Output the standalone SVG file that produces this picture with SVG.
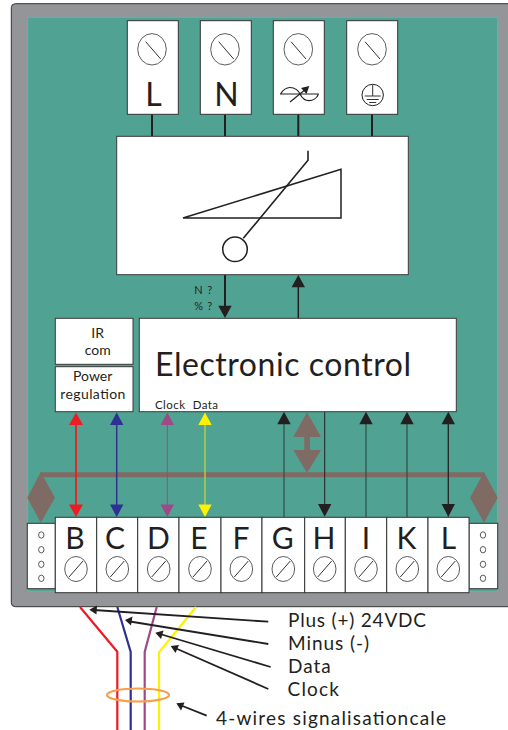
<svg xmlns="http://www.w3.org/2000/svg" width="508" height="730" viewBox="0 0 508 730">
<style>
text{font-family:Lato,"Open Sans","Liberation Sans",sans-serif;fill:#231f20}
.box{fill:#fff;stroke:#3a3a3a;stroke-width:1}
.term{fill:#fff;stroke:#333;stroke-width:1}
.scr{fill:#fff;stroke:#333;stroke-width:.8}
.sl{stroke:#333;stroke-width:1;fill:none}
.top{font-size:32px;text-anchor:middle}
.big{font-size:30px;text-anchor:middle}
.dot{fill:#fff;stroke:#333;stroke-width:.8}
.wire{fill:none;stroke-width:2.2}
.th{stroke:#231f20;stroke-width:1.2;fill:none}
.lead{stroke:#231f20;stroke-width:1.800;fill:none}
.lab{font-size:19px}
</style>
<g id="enclosure">
<rect x="11.300" y="3.700" width="520" height="603" rx="4" fill="#939598" stroke="#333" stroke-width="1"/>
<rect x="27.700" y="17.300" width="470" height="574" fill="#50a392" stroke="#5cb8b0" stroke-width="1"/>
</g>
<g id="connectors">
<path d="M152 114V137M225 114V137M298.300 114V137M372 114V137" stroke="#231f20" stroke-width="2" fill="none"/>
<path d="M225 275V308" stroke="#231f20" stroke-width="2"/>
<path d="M218.300 305.700H231.700L225 318Z" fill="#231f20"/>
<path d="M298.300 318V287" stroke="#231f20" stroke-width="1.500"/>
<path d="M291.600 287.300H305L298.300 275Z" fill="#231f20"/>
<path d="M40.700 474.700H484" stroke="#7f6b63" stroke-width="5" fill="none"/>
<path d="M40.700 472L55 497.700L40.700 522.700L27.300 497.700Z" fill="#7f6b63"/>
<path d="M484 472L497.700 497.700L484 522.700L470 497.700Z" fill="#7f6b63"/>
<path d="M307 412.300L321 437H310V450H321L307 473L293.300 450H304.300V437H293.300Z" fill="#7f6b63"/>
<path d="M76 420V507" stroke="#ed1c24" stroke-width="1.800"/>
<path d="M69 425H83L76 412.500ZM69 504.500H83L76 517Z" fill="#ed1c24"/>
<path d="M116.700 420V507" stroke="#2e3192" stroke-width="1.500"/>
<path d="M110 425H123.400L116.700 412.500ZM110 504.500H123.400L116.700 517Z" fill="#2e3192"/>
<path d="M167.300 420V507" stroke="#8f4f86" stroke-width="1"/>
<path d="M160.500 425H174L167.300 412.500ZM160.500 504.500H174L167.300 517Z" fill="#9e4a86"/>
<path d="M205 420V507" stroke="#c8d83c" stroke-width="1.200"/>
<path d="M198.300 425H211.700L205 412.500ZM198.300 504.500H211.700L205 517Z" fill="#fff200"/>
<path d="M284 422V517M366 422V517M407 422V517M448.300 422V517" stroke="#2f4f4a" stroke-width="1.200"/>
<path d="M324.700 412V507M448.300 422V507" stroke="#231f20" stroke-width="1"/>
<path d="M277.300 424.300H290.700L284 411.700ZM359.300 424.300H372.700L366 411.700ZM400.300 424.300H413.700L407 411.700ZM441.600 424.300H455L448.300 411.700Z" fill="#231f20"/>
<path d="M318 504H331.400L324.700 516.700ZM441.600 504H455L448.300 516.700Z" fill="#231f20"/>
</g>
<g id="terminal-L"><rect class="term" x="127.300" y="20.700" width="51" height="93.600"/><ellipse class="scr" cx="152" cy="49.300" rx="14.300" ry="15.700"/><path class="sl" d="M145.700 41.700L160.700 59"/><text class="top" x="153.500" y="106">L</text></g>
<g id="terminal-N"><rect class="term" x="200.300" y="20.700" width="51" height="93.600"/><ellipse class="scr" cx="225" cy="49.300" rx="14.300" ry="15.700"/><path class="sl" d="M218.700 41.700L233.700 59"/><text class="top" x="226.500" y="106">N</text></g>
<g id="terminal-signal"><rect class="term" x="273.300" y="20.700" width="51" height="93.600"/><ellipse class="scr" cx="298.300" cy="49.300" rx="14.300" ry="15.700"/><path class="sl" d="M291 41.700L306 59"/>
<path class="th" d="M280 94H318.700M280.500 94C283 90 287 87.500 290 87.500C295 87.500 299 91 300 94C302 98 305 100.700 309 100.700C313 100.700 317 98 318.500 94"/>
<path class="th" d="M290 102L306 89"/><path d="M301 88L309.300 86L306.500 94Z" fill="#231f20"/></g>
<g id="terminal-earth"><rect class="term" x="346.700" y="20.700" width="51" height="93.600"/><ellipse class="scr" cx="372" cy="49.300" rx="14.300" ry="15.700"/><path class="sl" d="M365 41.700L380 59"/>
<circle cx="372.700" cy="95" r="10.700" fill="#fff" stroke="#231f20" stroke-width="1"/><path class="sl" d="M372.700 85V96M364.700 96H380.700M366.700 99.500H378.700M369.200 102.500H376.200"/></g>
<g id="relay"><rect class="box" x="116.700" y="136.300" width="291.600" height="138.400"/>
<path d="M183 218L341 169.300V218Z" fill="none" stroke="#231f20" stroke-width="1.500"/>
<path d="M308 150.700V160.300L243.300 238.300" fill="none" stroke="#231f20" stroke-width="1.600"/>
<circle cx="235" cy="249.300" r="12.300" fill="#fff" stroke="#231f20" stroke-width="1.500"/>
</g>
<g id="label-n"><text x="194.300" y="294" font-size="11" textLength="18">N ?</text><text x="194.300" y="310" font-size="11" textLength="18">% ?</text></g>
<g id="ir-com"><rect class="box" x="55.300" y="318.300" width="77.700" height="46"/><text x="97.700" y="338" font-size="14" text-anchor="middle">IR</text><text x="97.700" y="355.300" font-size="14" text-anchor="middle">com</text></g>
<g id="power-regulation"><rect class="box" x="55.300" y="366.700" width="77.700" height="45"/><text x="92.700" y="381.300" font-size="14" text-anchor="middle">Power</text><text x="60.300" y="399" font-size="14" textLength="65">regulation</text></g>
<g id="electronic-control"><rect class="box" x="139.300" y="318.300" width="317" height="93.400"/><text x="155" y="376" font-size="32" textLength="256">Electronic control</text><text x="155" y="408.700" font-size="11.500" textLength="30">Clock</text><text x="192.700" y="408.700" font-size="11.500" textLength="25.300">Data</text></g>
<g id="strip-left"><rect class="term" x="27.300" y="523.300" width="28" height="65.400"/><ellipse class="dot" cx="41.300" cy="535" rx="2.700" ry="3.200"/><ellipse class="dot" cx="41.300" cy="549.700" rx="2.700" ry="3.200"/><ellipse class="dot" cx="41.300" cy="564.300" rx="2.700" ry="3.200"/><ellipse class="dot" cx="41.300" cy="578.300" rx="2.700" ry="3.200"/></g>
<g id="strip-right"><rect class="term" x="469" y="523.300" width="28.700" height="65.400"/><ellipse class="dot" cx="483" cy="535" rx="2.700" ry="3.200"/><ellipse class="dot" cx="483" cy="549.700" rx="2.700" ry="3.200"/><ellipse class="dot" cx="483" cy="564.300" rx="2.700" ry="3.200"/><ellipse class="dot" cx="483" cy="578.300" rx="2.700" ry="3.200"/></g>
<g id="term-B"><rect class="term" x="55.300" y="517.300" width="41.400" height="75.400"/><text class="big" x="75" y="549.300">B</text><ellipse class="scr" cx="76" cy="569" rx="11.300" ry="12.500"/><path class="sl" d="M69 577L83 561"/></g>
<g id="term-C"><rect class="term" x="96.700" y="517.300" width="41" height="75.400"/><text class="big" x="115" y="549.300">C</text><ellipse class="scr" cx="117.300" cy="569" rx="11.300" ry="12.500"/><path class="sl" d="M110.300 577L124.300 561"/></g>
<g id="term-D"><rect class="term" x="137.700" y="517.300" width="41.300" height="75.400"/><text class="big" x="158.300" y="549.300">D</text><ellipse class="scr" cx="158.700" cy="569" rx="11.300" ry="12.500"/><path class="sl" d="M151.700 577L165.700 561"/></g>
<g id="term-E"><rect class="term" x="179" y="517.300" width="42" height="75.400"/><text class="big" x="199" y="549.300">E</text><ellipse class="scr" cx="200" cy="569" rx="11.300" ry="12.500"/><path class="sl" d="M193 577L207 561"/></g>
<g id="term-F"><rect class="term" x="221" y="517.300" width="41" height="75.400"/><text class="big" x="241" y="549.300">F</text><ellipse class="scr" cx="241.300" cy="569" rx="11.300" ry="12.500"/><path class="sl" d="M234.300 577L248.300 561"/></g>
<g id="term-G"><rect class="term" x="262" y="517.300" width="42.700" height="75.400"/><text class="big" x="282.700" y="549.300">G</text><ellipse class="scr" cx="283.300" cy="569" rx="11.300" ry="12.500"/><path class="sl" d="M276.300 577L290.300 561"/></g>
<g id="term-H"><rect class="term" x="304.700" y="517.300" width="40.600" height="75.400"/><text class="big" x="324" y="549.300">H</text><ellipse class="scr" cx="324.700" cy="569" rx="11.300" ry="12.500"/><path class="sl" d="M317.700 577L331.700 561"/></g>
<g id="term-I"><rect class="term" x="345.300" y="517.300" width="41.400" height="75.400"/><text class="big" x="366" y="549.300">I</text><ellipse class="scr" cx="366" cy="569" rx="11.300" ry="12.500"/><path class="sl" d="M359 577L373 561"/></g>
<g id="term-K"><rect class="term" x="386.700" y="517.300" width="41.300" height="75.400"/><text class="big" x="406.500" y="549.300">K</text><ellipse class="scr" cx="407.300" cy="569" rx="11.300" ry="12.500"/><path class="sl" d="M400.300 577L414.300 561"/></g>
<g id="term-Lb"><rect class="term" x="428" y="517.300" width="41" height="75.400"/><text class="big" x="448.500" y="549.300">L</text><ellipse class="scr" cx="448.300" cy="569" rx="11.300" ry="12.500"/><path class="sl" d="M441.300 577L455.300 561"/></g>
<g id="wires">
<path class="wire" stroke="#ed1c24" d="M80 607L117.300 651.700V730"/>
<path class="wire" stroke="#2e3192" d="M117.300 607L130.700 652V730"/>
<path class="wire" stroke="#9e4a86" d="M156.700 607L144.700 652V730"/>
<path class="wire" stroke="#fff200" d="M196 607L159 652.300V730"/>
<ellipse cx="138" cy="695" rx="31" ry="6.500" fill="none" stroke="#f6a04d" stroke-width="2.200"/>
</g>
<g id="leaders">
<path class="lead" d="M268.300 621.700L94 610"/><path d="M89.300 609.700L97 605.500L96.500 614.500Z" fill="#231f20"/>
<path class="lead" d="M268.300 644L130 621.500"/><path d="M125 620L132.500 616.500L131 625.500Z" fill="#231f20"/>
<path class="lead" d="M270.700 667L160 634"/><path d="M155.300 632.700L163.500 630.500L161 639Z" fill="#231f20"/>
<path class="lead" d="M268.300 689L175 648"/><path d="M170.700 646L179 645L175.500 653Z" fill="#231f20"/>
<path class="lead" d="M206.700 715.700L180 705"/><path d="M176.300 703.300L184.500 702.500L181 710.500Z" fill="#231f20"/>
</g>
<g id="labels">
<text class="lab" x="288" y="626.700" textLength="138">Plus (+) 24VDC</text>
<text class="lab" x="288" y="650" textLength="81">Minus (-)</text>
<text class="lab" x="288" y="672.700" textLength="42.700">Data</text>
<text class="lab" x="287.500" y="695.700" textLength="51.500">Clock</text>
<text class="lab" x="216" y="725" textLength="230">4-wires signalisationcale</text>
</g>
</svg>
